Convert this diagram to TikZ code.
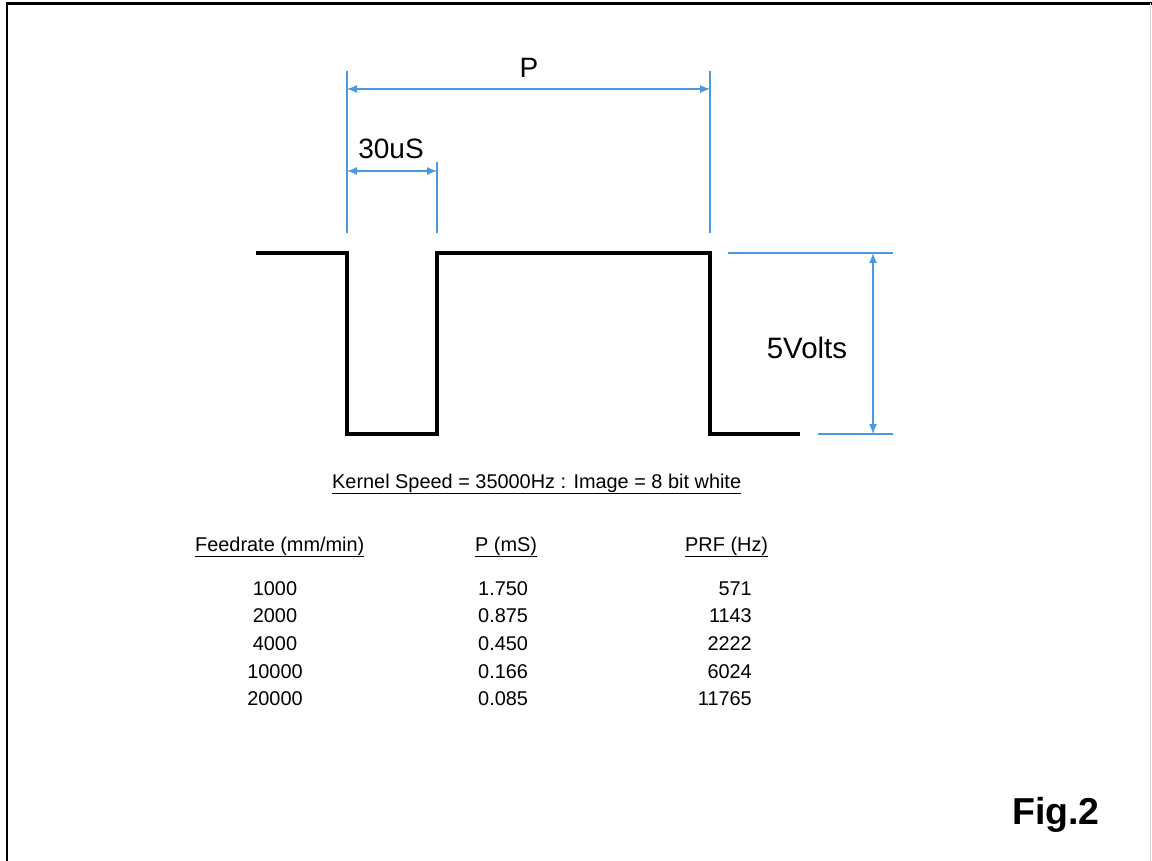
\documentclass[tikz,border=0pt]{standalone}
\usepackage{fontspec}
\setmainfont{Liberation Sans}
\usetikzlibrary{arrows.meta}
\definecolor{dimblue}{RGB}{74,152,222}
\begin{document}
\begin{tikzpicture}[x=1pt,y=-1pt,
  wave/.style={line width=3.8pt,line join=miter},
  dimline/.style={dimblue,line width=1.3pt},
  dimarrow/.style={dimblue,line width=1.3pt,{Latex[length=10pt,width=8pt]}-{Latex[length=10pt,width=8pt]}},
  biglabel/.style={inner sep=0pt,anchor=base,font=\fontsize{28}{30}\selectfont},
  tabtext/.style={inner sep=0pt,anchor=base,font=\fontsize{19.9}{22}\selectfont},
  frame/.style={line width=2.5pt}]
\useasboundingbox (0,0) rectangle (1152,861);
\fill[white] (0,0) rectangle (1152,861);
% frame
\draw[frame] (7,861) -- (7,3.5) -- (1152,3.5);
\draw[black!15,line width=1pt] (1150,3.5) -- (1150,861);
% waveform
\coordinate (w0) at (256,253);
\coordinate (w1) at (347,253);
\coordinate (w2) at (347,434);
\coordinate (w3) at (437,434);
\coordinate (w4) at (437,253);
\coordinate (w5) at (710,253);
\coordinate (w6) at (710,434);
\coordinate (w7) at (800,434);
\draw[wave] (w0) -- (w1) -- (w2) -- (w3) -- (w4) -- (w5) -- (w6) -- (w7);
% extension lines
\coordinate (e1t) at (347,71);  \coordinate (e1b) at (347,233);
\coordinate (e2t) at (437,162); \coordinate (e2b) at (437,233);
\coordinate (e3t) at (710,71);  \coordinate (e3b) at (710,233);
\draw[dimline] (e1t) -- (e1b);
\draw[dimline] (e2t) -- (e2b);
\draw[dimline] (e3t) -- (e3b);
\coordinate (pa) at (347,89); \coordinate (pb) at (710,89);
\draw[dimarrow] (pa) -- (pb);
\coordinate (sa) at (347,171); \coordinate (sb) at (437,171);
\draw[dimarrow] (sa) -- (sb);
\node[biglabel] (plab) at (529,78) {P};
\node[biglabel] (slab) at (391,159) {30uS};
% 5 volts
\coordinate (h1a) at (728,253); \coordinate (h1b) at (893,253);
\coordinate (h2a) at (818,434); \coordinate (h2b) at (893,434);
\draw[dimline] (h1a) -- (h1b);
\draw[dimline] (h2a) -- (h2b);
\coordinate (va) at (873,253); \coordinate (vb) at (873,434);
\draw[dimarrow] (va) -- (vb);
\node[biglabel,font=\fontsize{29.5}{31}\selectfont] (vlab) at (807,358) {5Volts};
% title of table
\node[tabtext,anchor=base west] (kern) at (332,488) {\underline{Kernel Speed = 35000Hz : Image = 8 bit white}};
% headers
\node[tabtext,anchor=base west] (h1) at (195,551) {\underline{Feedrate (mm/min)}};
\node[tabtext,anchor=base west] (h2) at (475,551) {\underline{P (mS)}};
\node[tabtext,anchor=base west] (h3) at (685,551) {\underline{PRF (Hz)}};
% rows
\foreach \r/\f/\p/\q in {0/1000/1.750/571, 1/2000/0.875/1143, 2/4000/0.450/2222, 3/10000/0.166/6024, 4/20000/0.085/11765}{
  \node[tabtext] (f\r) at (275,595+27.7*\r) {\f};
  \node[tabtext,anchor=base west] (p\r) at (478,595+27.7*\r) {\p};
  \node[tabtext,anchor=base east] (q\r) at (752,595+27.7*\r) {\q};
}
\node[inner sep=0pt,anchor=base east,font=\bfseries\fontsize{37.5}{40}\selectfont] (fig) at (1100,824) {Fig.2};
\end{tikzpicture}
\end{document}
